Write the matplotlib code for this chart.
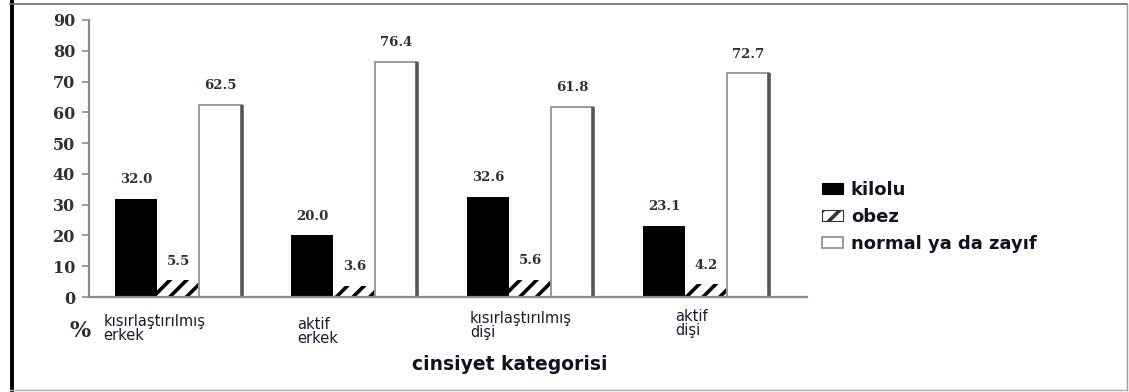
import numpy as np
import matplotlib
matplotlib.use("Agg")
import matplotlib.pyplot as plt
from matplotlib.lines import Line2D
from matplotlib.patches import Patch

# ---- data -------------------------------------------------------------
categories = ["kısırlaştırılmış\nerkek", "aktif\nerkek",
              "kısırlaştırılmış\ndişi", "aktif\ndişi"]
series_names = ["kilolu", "obez", "normal ya da zayıf"]
kilolu = [32.0, 20.0, 32.6, 23.1]
obez = [5.5, 3.6, 5.6, 4.2]
normal = [62.5, 76.4, 61.8, 72.7]
y_ticks = [0, 10, 20, 30, 40, 50, 60, 70, 80, 90]

# ---- style ------------------------------------------------------------
plt.rcParams["hatch.linewidth"] = 2.6
W, H = 1129, 392
fig = plt.figure(figsize=(W / 100, H / 100), dpi=100)
fig.patch.set_facecolor("white")

# axes box in pixel terms -> figure fractions
left_px, right_px, top_px, bottom_px = 89, 807, 20, 297
ax = fig.add_axes([left_px / W, 1 - bottom_px / H,
                   (right_px - left_px) / W, (bottom_px - top_px) / H])

x = np.arange(len(categories))
bw = 0.239
axis_grey = "#8c8c8c"
num_color = "#2e2e3c"

b1 = ax.bar(x - bw, kilolu, bw, color="black", linewidth=0)
b2 = ax.bar(x, obez, bw, color="white", edgecolor="black", hatch="//",
            linewidth=0)
b3 = ax.bar(x + bw, normal, bw, color="white", edgecolor="#9a9a9a",
            linewidth=1.4)
# darker shadow edge on the right side of the open bars
ax.vlines(x + 1.5 * bw, 0, normal, colors="#555555", linewidth=2.6)

# value labels
for bars, vals in ((b1, kilolu), (b2, obez), (b3, normal)):
    for rect, v in zip(bars, vals):
        ax.annotate(f"{v:.1f}", (rect.get_x() + rect.get_width() / 2, v),
                    xytext=(0, 9), textcoords="offset points",
                    ha="center", va="bottom", fontsize=9.5,
                    fontweight="bold", family="DejaVu Serif", color=num_color)

ax.set_xlim(-0.509, 3.575)
ax.set_ylim(0, 90)
ax.set_yticks(y_ticks)
ax.set_yticklabels([str(t) for t in y_ticks], fontsize=11.5,
                   fontweight="bold", family="DejaVu Serif", color=num_color)
ax.tick_params(axis="y", length=5, width=1.2, color=axis_grey, pad=5)
ax.set_xticks([])
for s in ("top", "right"):
    ax.spines[s].set_visible(False)
for s in ("left", "bottom"):
    ax.spines[s].set_color(axis_grey)
    ax.spines[s].set_linewidth(1.6)

# category labels under the axis (left aligned, staggered)
label_offsets = [(-75, -17), (-57, -20), (-60, -14), (-31, -12)]
for i, (lab, (dx, dy)) in enumerate(zip(categories, label_offsets)):
    ax.annotate(lab, (i, 0), xytext=(dx * 0.72, dy * 0.72),
                textcoords="offset points", ha="left", va="top",
                fontsize=10.5, family="DejaVu Sans", color="#1a1a33",
                linespacing=0.92, annotation_clip=False)

fig.text(80 / W, 1 - 331 / H, "%", ha="center", va="center", fontsize=16,
         fontweight="bold", family="DejaVu Serif", color="#2e2e3c")
fig.text(510 / W, 1 - 364 / H, "cinsiyet kategorisi", ha="center",
         va="center", fontsize=13.5, fontweight="bold",
         family="DejaVu Sans", color="#111122")

# legend
handles = [
    Patch(facecolor="black", edgecolor="black", linewidth=0.8),
    Patch(facecolor="white", edgecolor="#333333", hatch="//", linewidth=0.8),
    Patch(facecolor="white", edgecolor="#8a8a8a", linewidth=1.2),
]
fig.legend(handles=handles, labels=series_names,
           loc="upper left", bbox_to_anchor=(822 / W, 1 - 181 / H),
           frameon=False, handlelength=1.15, handleheight=0.55,
           handletextpad=0.45, labelspacing=0.5,
           prop={"family": "DejaVu Sans", "weight": "bold", "size": 13},
           labelcolor="#111122", borderaxespad=0, borderpad=0)

# outer frame of the figure
fig.add_artist(Line2D([11.5 / W, 11.5 / W], [0, 1], transform=fig.transFigure,
                      color="black", linewidth=2.8))
fig.add_artist(Line2D([10 / W, 1127 / W], [1 - 4 / H, 1 - 4 / H],
                      transform=fig.transFigure, color="#6a6a6a", linewidth=1.2))
fig.add_artist(Line2D([1127 / W, 1127 / W], [1 - 4 / H, 1 - 390 / H],
                      transform=fig.transFigure, color="#9a9a9a", linewidth=1.0))
fig.add_artist(Line2D([10 / W, 1127 / W], [1 - 390 / H, 1 - 390 / H],
                      transform=fig.transFigure, color="#b0b0b0", linewidth=1.0))

fig.savefig("out.png", dpi=100)
